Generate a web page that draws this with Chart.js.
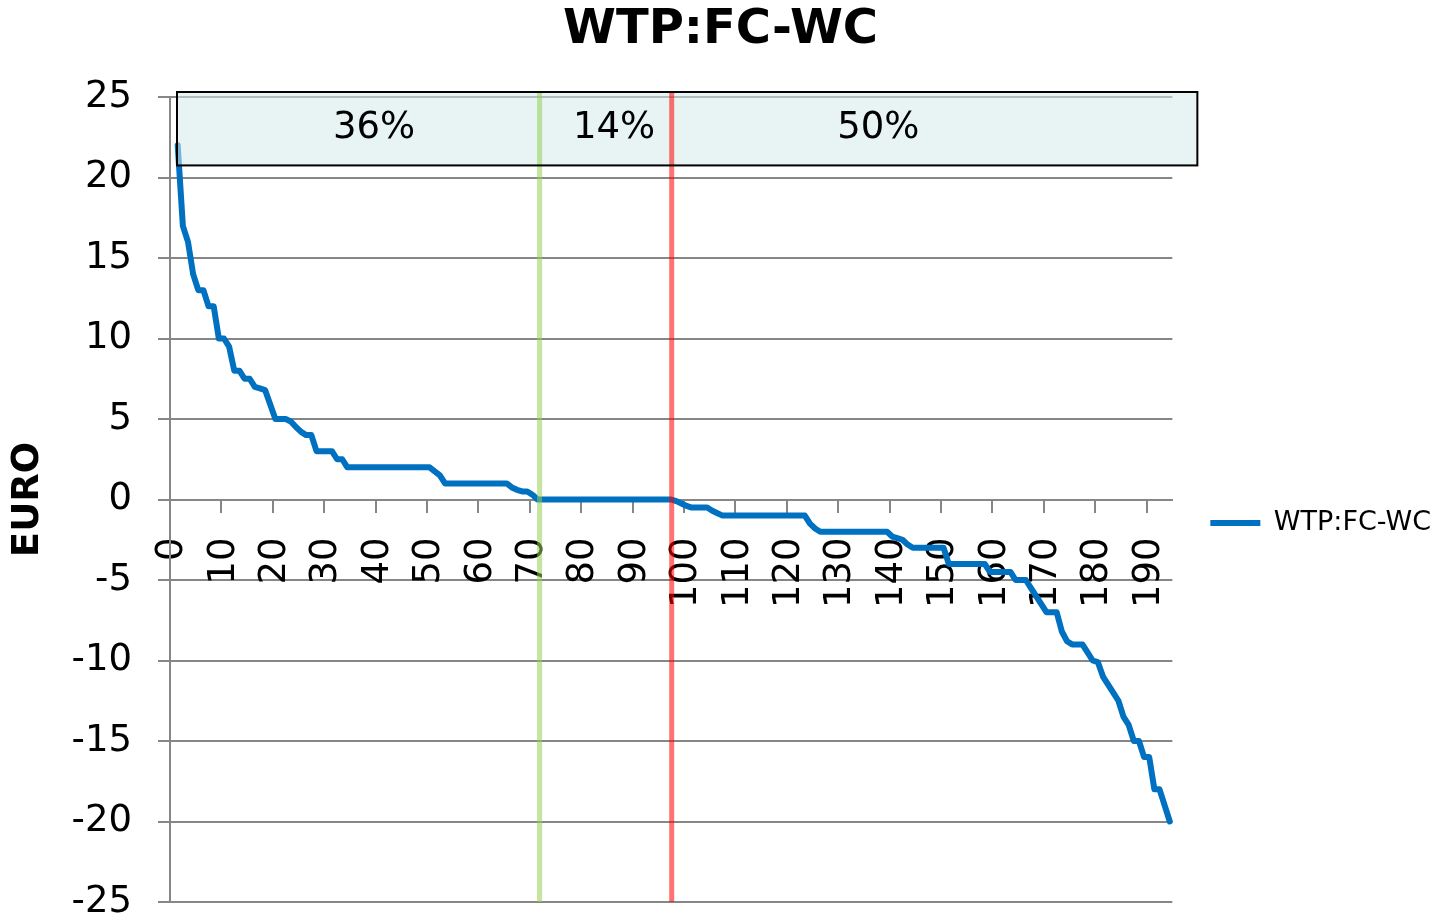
<!DOCTYPE html>
<html>
<head>
<meta charset="utf-8">
<script src="https://cdn.jsdelivr.net/npm/chart.js@4.4.1/dist/chart.umd.min.js"></script>
<style>html,body{margin:0;padding:0;background:#fff}canvas{display:block}</style>
</head>
<body>
<canvas id="c" width="1441" height="918"></canvas>
<script>
// ---- data ----
const chartTitle = 'WTP:FC-WC';
const seriesName = 'WTP:FC-WC';
const yAxisTitle = 'EURO';
const categories = [
  0,1,2,3,4,5,6,7,8,9,10,11,12,13,14,15,16,17,18,19,
  20,21,22,23,24,25,26,27,28,29,30,31,32,33,34,35,36,37,38,39,
  40,41,42,43,44,45,46,47,48,49,50,51,52,53,54,55,56,57,58,59,
  60,61,62,63,64,65,66,67,68,69,70,71,72,73,74,75,76,77,78,79,
  80,81,82,83,84,85,86,87,88,89,90,91,92,93,94,95,96,97,98,99,
  100,101,102,103,104,105,106,107,108,109,110,111,112,113,114,115,116,117,118,119,
  120,121,122,123,124,125,126,127,128,129,130,131,132,133,134,135,136,137,138,139,
  140,141,142,143,144,145,146,147,148,149,150,151,152,153,154,155,156,157,158,159,
  160,161,162,163,164,165,166,167,168,169,170,171,172,173,174,175,176,177,178,179,
  180,181,182,183,184,185,186,187,188,189,190,191,192,193,194
];
const wtpValues = [
  null, 22, 17, 16, 14, 13, 13, 12, 12, 10,
  10, 9.5, 8, 8, 7.5, 7.5, 7, 6.9, 6.8, 5.9,
  5, 5, 5, 4.85, 4.5, 4.2, 4, 4, 3, 3,
  3, 3, 2.5, 2.5, 2, 2, 2, 2, 2, 2,
  2, 2, 2, 2, 2, 2, 2, 2, 2, 2,
  2, 1.75, 1.5, 1, 1, 1, 1, 1, 1, 1,
  1, 1, 1, 1, 1, 1, 0.75, 0.6, 0.5, 0.5,
  0.3, 0, 0, 0, 0, 0, 0, 0, 0, 0,
  0, 0, 0, 0, 0, 0, 0, 0, 0, 0,
  0, 0, 0, 0, 0, 0, 0, 0, -0.1, -0.25,
  -0.4, -0.5, -0.5, -0.5, -0.5, -0.7, -0.85, -1, -1, -1,
  -1, -1, -1, -1, -1, -1, -1, -1, -1, -1,
  -1, -1, -1, -1, -1.5, -1.8, -2, -2, -2, -2,
  -2, -2, -2, -2, -2, -2, -2, -2, -2, -2,
  -2.3, -2.4, -2.5, -2.8, -3, -3, -3, -3, -3, -3,
  -3, -4, -4, -4, -4, -4, -4, -4, -4, -4.5,
  -4.5, -4.5, -4.5, -4.5, -5, -5, -5, -5.5, -6, -6.5,
  -7, -7, -7, -8.2, -8.8, -9, -9, -9, -9.5, -10,
  -10.1, -11, -11.5, -12, -12.5, -13.5, -14, -15, -15, -16,
  -16, -18, -18, -19, -20
];
const yTickValues = [-25, -20, -15, -10, -5, 0, 5, 10, 15, 20, 25];
const shareLabels = ['36%', '14%', '50%'];

// ---- annotation anchors (in axis units) ----
const shareLabelAt = [39.2, 85.9, 137.3];
const shareLabelY = 23.05;
const splitLines = [71.4, 97.1];
const splitColors = ['rgba(146,208,80,0.55)', 'rgba(255,0,0,0.55)'];
const boxBottomValue = 20.75;

const GRID = '#868686';
const FONT = '"DejaVu Sans", Verdana, sans-serif';
Chart.defaults.font.family = FONT;
Chart.defaults.color = '#000';

const shareBox = {
  id: 'shareBox',
  afterDatasetsDraw(chart) {
    const { ctx, chartArea: a, scales: { x, y } } = chart;
    const top = a.top - 5;
    const bottom = y.getPixelForValue(boxBottomValue);
    const left = a.left + 7;
    const right = a.right + 25;
    ctx.save();
    ctx.fillStyle = 'rgba(213,235,235,0.55)';
    ctx.fillRect(left, top, right - left, bottom - top);
    splitLines.forEach((v, i) => {
      const px = x.getPixelForValue(v);
      ctx.beginPath();
      ctx.strokeStyle = splitColors[i];
      ctx.lineWidth = 5;
      ctx.moveTo(px, top);
      ctx.lineTo(px, a.bottom);
      ctx.stroke();
    });
    ctx.lineWidth = 2;
    ctx.strokeStyle = '#000';
    ctx.strokeRect(left, top, right - left, bottom - top);
    ctx.fillStyle = '#000';
    ctx.font = '37px ' + FONT;
    ctx.textAlign = 'center';
    ctx.textBaseline = 'middle';
    shareLabels.forEach((t, i) => {
      ctx.fillText(t, x.getPixelForValue(shareLabelAt[i]), y.getPixelForValue(shareLabelY));
    });
    ctx.restore();
  }
};

new Chart(document.getElementById('c'), {
  type: 'line',
  data: {
    labels: categories,
    datasets: [{
      label: seriesName,
      data: wtpValues,
      borderColor: '#0070C0',
      backgroundColor: '#0070C0',
      borderWidth: 6,
      pointRadius: 0,
      pointHoverRadius: 0,
      tension: 0,
      borderCapStyle: 'round',
      borderJoinStyle: 'round'
    }]
  },
  options: {
    responsive: false,
    animation: false,
    events: [],
    devicePixelRatio: 1,
    layout: { padding: { left: 0, right: 0, top: 0, bottom: 16 } },
    plugins: {
      tooltip: { enabled: false },
      title: {
        display: true,
        text: chartTitle,
        color: '#000',
        font: { size: 48, weight: 'bold' },
        padding: { top: 2, bottom: 37.4 }
      },
      legend: {
        position: 'right',
        fullSize: false,
        title: { display: true, text: '', font: { size: 10 }, padding: { top: 35, bottom: 0 } },
        labels: {
          usePointStyle: true,
          pointStyle: 'line',
          pointStyleWidth: 50,
          padding: 38,
          color: '#000',
          font: { size: 27 }
        }
      }
    },
    scales: {
      x: {
        type: 'category',
        position: { y: 0 },
        offset: true,
        grid: {
          offset: true,
          drawOnChartArea: false,
          drawTicks: true,
          tickLength: 12,
          tickWidth: 2,
          lineWidth: 2,
          color: GRID,
          tickColor: c => (c.index % 10 === 0 ? GRID : 'rgba(0,0,0,0)')
        },
        border: { display: true, color: GRID, width: 2 },
        ticks: {
          autoSkip: false,
          minRotation: 90,
          maxRotation: 90,
          padding: 26,
          color: '#000',
          font: { size: 37 },
          callback: (v, i) => (i % 10 === 0 ? String(categories[i]) : '')
        }
      },
      y: {
        min: yTickValues[0],
        max: yTickValues[yTickValues.length - 1],
        afterBuildTicks: s => { s.ticks = yTickValues.map(v => ({ value: v })); },
        ticks: { padding: 26, color: '#000', font: { size: 37 } },
        grid: { color: GRID, lineWidth: 2, tickLength: 12, drawTicks: true },
        border: { display: true, color: GRID, width: 2 },
        title: {
          display: true,
          text: yAxisTitle,
          color: '#000',
          font: { size: 37, weight: 'bold' },
          padding: { top: 6, bottom: 0 }
        },
        afterFit: s => { s.width = 170; s.paddingTop = 0; s.paddingBottom = 0; }
      }
    }
  },
  plugins: [shareBox]
});
</script>
</body>
</html>
